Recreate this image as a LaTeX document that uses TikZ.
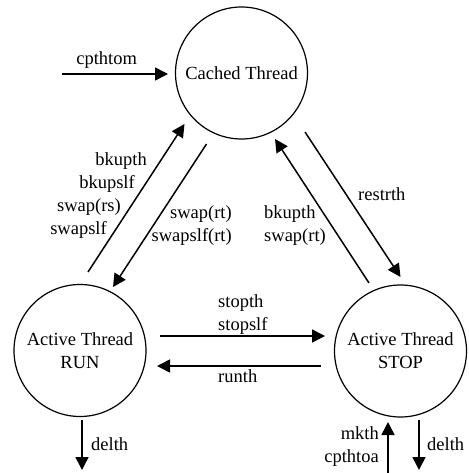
\documentclass[tikz,border=0pt]{standalone}
\usepackage{fontspec}
\setmainfont{Liberation Serif}
\usetikzlibrary{arrows.meta,calc}
\begin{document}
\begin{tikzpicture}[x=1pt,y=-1pt,
  state/.style={draw,circle,minimum size=132pt,inner sep=0pt,line width=1.2pt,align=center,font=\fontsize{18.5}{23}\selectfont},
  arr/.style={line width=1.5pt,-{Triangle[length=13pt,width=13pt]}},
  lbl/.style={font=\fontsize{18.5}{23}\selectfont,inner sep=0pt}]
\useasboundingbox (0,0) rectangle (468,473);
\node[state] (cached) at (241.5,73) {Cached Thread};
\node[state] (run) at (80,350.5) {Active Thread\\RUN};
\node[state] (stop) at (400.5,351) {Active Thread\\STOP};
\coordinate (cin) at (62,74);
\coordinate (rd) at (82,470);
\coordinate (su) at (388,473);
\coordinate (sd) at (419,470);
% connectors
\draw[arr] (cin) -- ($(cached.center)+(-73.5,1)$);
\draw[arr] ($(run.center)+(8,-78.5)$) -- ($(cached.center)+(-57,51)$);
\draw[arr] ($(cached.center)+(-35,71)$) -- ($(run.center)+(33,-63.5)$);
\draw[arr] ($(stop.center)+(-31.5,-68)$) -- ($(cached.center)+(33.5,66)$);
\draw[arr] ($(cached.center)+(63.5,59)$) -- ($(stop.center)+(0,-74)$);
\draw[arr] ($(run.center)+(80,-14.5)$) -- ($(stop.center)+(-75.5,-15)$);
\draw[arr] ($(stop.center)+(-79.5,15)$) -- ($(run.center)+(77,15.5)$);
\draw[arr] ($(run.center)+(2,69.5)$) -- (rd);
\draw[arr] (su) -- ($(stop.center)+(-12.5,71)$);
\draw[arr] ($(stop.center)+(18.5,69)$) -- (sd);
% labels
\node[lbl,anchor=base] (l1) at (106.7,65) {cpthtom};
\node[lbl,anchor=base east] (l2) at (147,165) {bkupth};
\node[lbl,anchor=base east] (l3) at (135,188) {bkupslf};
\node[lbl,anchor=base east] (l4) at (121,211) {swap(rs)};
\node[lbl,anchor=base east] (l5) at (107,234) {swapslf};
\node[lbl,anchor=base east] (l6) at (232,218) {swap(rt)};
\node[lbl,anchor=base east] (l7) at (232,241) {swapslf(rt)};
\node[lbl,anchor=base west] (l8) at (264,218) {bkupth};
\node[lbl,anchor=base west] (l9) at (264,241) {swap(rt)};
\node[lbl,anchor=base west] (l10) at (358,200) {restrth};
\node[lbl,anchor=base west] (l11) at (218,307) {stopth};
\node[lbl,anchor=base west] (l12) at (218,330) {stopslf};
\node[lbl,anchor=base west] (l13) at (218,382) {runth};
\node[lbl,anchor=base west] (l14) at (91,450) {delth};
\node[lbl,anchor=base west] (l15) at (427,450) {delth};
\node[lbl,anchor=base east] (l16) at (379,439) {mkth};
\node[lbl,anchor=base east] (l17) at (379,462) {cpthtoa};
\end{tikzpicture}
\end{document}
